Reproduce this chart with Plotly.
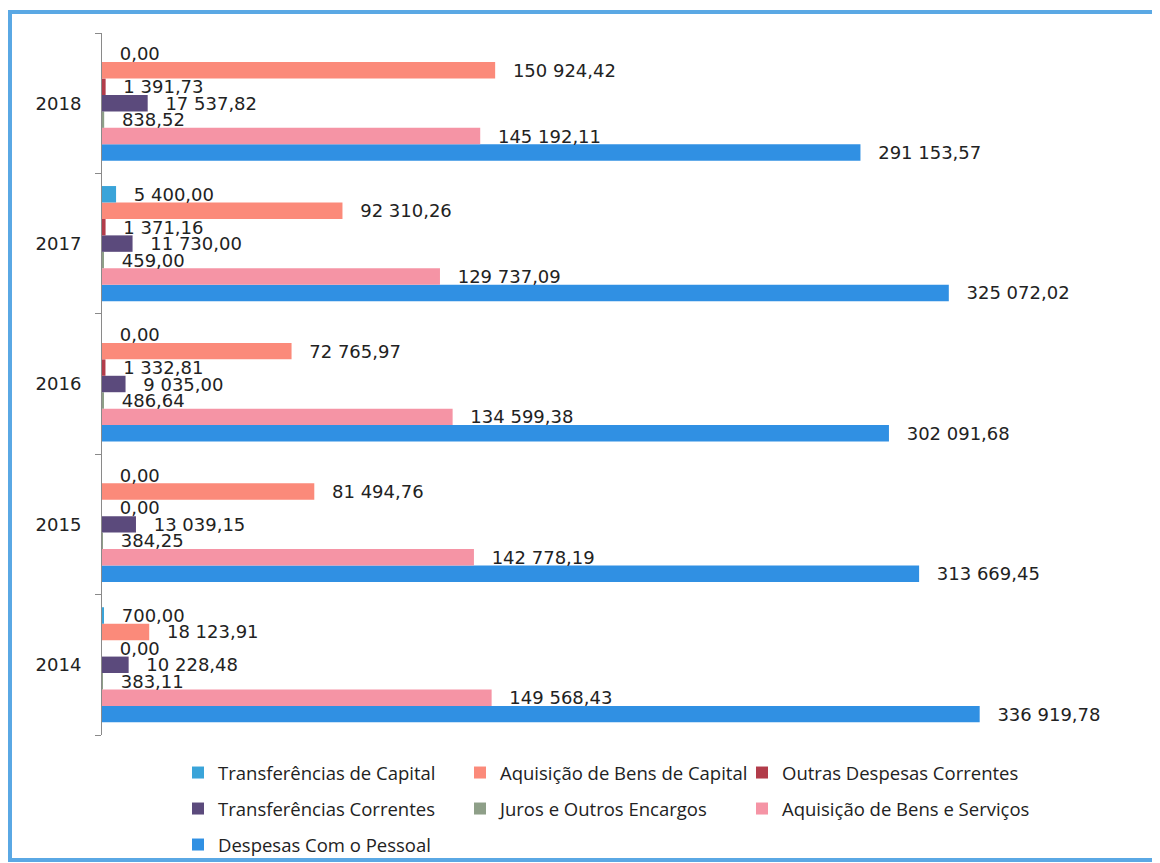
import plotly.graph_objects as go

# Years (bottom to top)
anos = ['2014', '2015', '2016', '2017', '2018']

# Series values per year (2014..2018)
despesas_pessoal = [336919.78, 313669.45, 302091.68, 325072.02, 291153.57]
aquis_bens_servicos = [149568.43, 142778.19, 134599.38, 129737.09, 145192.11]
juros_encargos = [383.11, 384.25, 486.64, 459.00, 838.52]
transf_correntes = [10228.48, 13039.15, 9035.00, 11730.00, 17537.82]
outras_desp_correntes = [0.00, 0.00, 1332.81, 1371.16, 1391.73]
aquis_bens_capital = [18123.91, 81494.76, 72765.97, 92310.26, 150924.42]
transf_capital = [700.00, 0.00, 0.00, 5400.00, 0.00]

# trace order = bottom to top inside each year group
# (name, values, colour, legend column, legend row)
series = [
    ('Despesas Com o Pessoal', despesas_pessoal, '#3090e3', 0, 2),
    ('Aquisição de Bens e Serviços', aquis_bens_servicos, '#f594a5', 2, 1),
    ('Juros e Outros Encargos', juros_encargos, '#8e9f88', 1, 1),
    ('Transferências Correntes', transf_correntes, '#5b4a7c', 0, 1),
    ('Outras Despesas Correntes', outras_desp_correntes, '#b23c4a', 2, 0),
    ('Aquisição de Bens de Capital', aquis_bens_capital, '#fb8a7a', 1, 0),
    ('Transferências de Capital', transf_capital, '#3aa4d9', 0, 0),
]


def fmt(v):
    s = f'{v:,.2f}'
    return s.replace(',', ' ').replace('.', ',')


# plot area in figure pixels: left 94, right 1136, top 25, bottom 727
PL, PW, PB, PH = 94, 1042, 727, 702
col_left = [170, 452, 734]
row_mid = [765, 801, 837]

fig = go.Figure()
legends = {}
for i, (name, vals, color, col, row) in enumerate(series):
    key = 'legend' if i == 0 else f'legend{i + 1}'
    fig.add_trace(go.Bar(
        y=anos, x=vals, name=name, orientation='h',
        marker=dict(color=color, line=dict(width=0)),
        text=['\u2002\u00a0' + fmt(v) for v in vals],
        textposition='outside', constraintext='none', cliponaxis=False,
        textfont=dict(family='DejaVu Sans', size=18, color='#222222'),
        legend=key,
    ))
    legends[key] = dict(
        orientation='h', xanchor='left', yanchor='middle',
        x=(col_left[col] - PL) / PW, y=(PB - row_mid[row]) / PH,
        font=dict(family='Open Sans', size=18.5, color='#222222'),
        bgcolor='rgba(0,0,0,0)',
    )

fig.update_layout(
    width=1152, height=855,
    margin=dict(l=PL, r=16, t=25, b=128, autoexpand=False),
    paper_bgcolor='white', plot_bgcolor='white',
    barmode='group', bargap=0.18, bargroupgap=0,
    showlegend=True,
    xaxis=dict(range=[0, 400000], visible=False, showgrid=False, zeroline=False),
    yaxis=dict(type='category', showline=True, linecolor='#8a8a8a', linewidth=1,
               ticks='outside', tickson='boundaries', ticklen=6, tickcolor='#8a8a8a',
               tickfont=dict(family='DejaVu Sans', size=18, color='#222222'),
               ticklabelstandoff=16, showgrid=False, zeroline=False, automargin=False),
    shapes=[dict(type='rect', xref='paper', yref='paper',
                 x0=(2 - PL) / PW, x1=(1175 - PL) / PW,
                 y0=(PB - 852) / PH, y1=(PB - 4) / PH,
                 line=dict(color='#5aa8e4', width=4), fillcolor='rgba(0,0,0,0)',
                 layer='below')],
    **legends,
)

fig.write_html('out.html')
